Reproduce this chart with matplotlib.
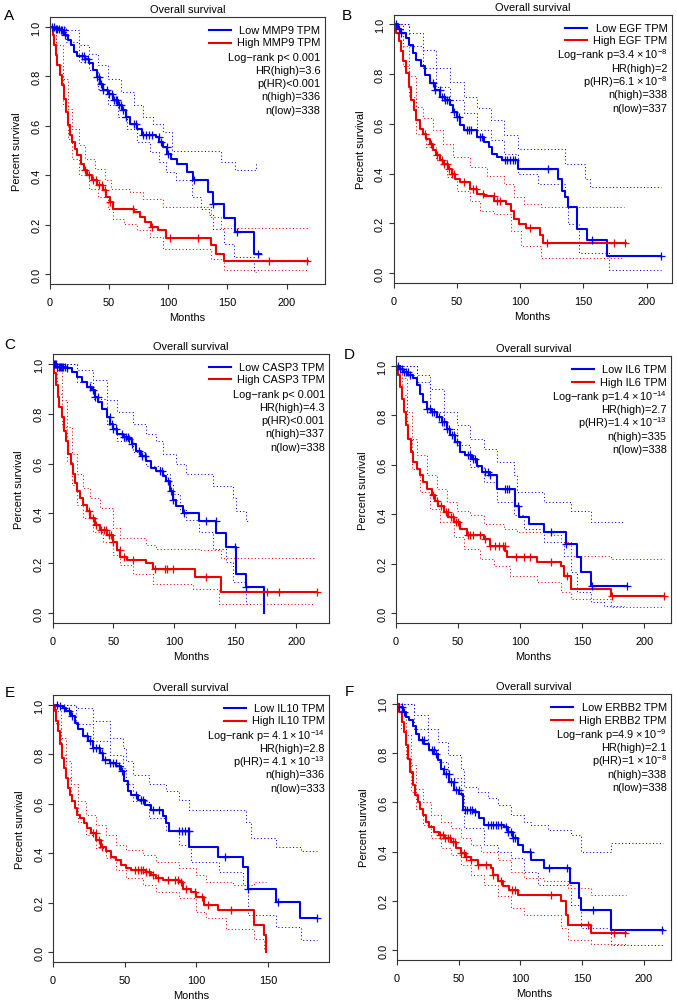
# Kaplan-Meier overall survival panels (A-F), low vs high TPM groups

import numpy as np
import matplotlib
matplotlib.use('Agg')
import matplotlib.pyplot as plt

plt.rcParams['font.family'] = ['Liberation Sans', 'DejaVu Sans']
plt.rcParams['mathtext.fontset'] = 'custom'
plt.rcParams['mathtext.rm'] = 'Liberation Sans'
plt.rcParams['mathtext.default'] = 'regular'

FS = 7.9
BLUE = '#0000ee'
RED = '#ee0000'

# ---------------- A: MMP9 ----------------
mmp9_low_t = [0, 4.1, 8.2, 12.2, 15.0, 17.7, 20.4, 23.1, 29.9, 32.7, 36.7, 39.5, 42.2, 44.9, 49.0, 53.1, 57.1, 61.2,
              63.9, 68.0, 73.5, 77.6, 89.8, 92.5, 95.2, 99.3, 102.0, 107.5, 115.6, 121.1, 133.3, 137.4, 146.9, 156.5,
              172.8, 178.2]
mmp9_low_s = [1.0, 0.993, 0.987, 0.966, 0.946, 0.926, 0.899, 0.883, 0.872, 0.852, 0.825, 0.798, 0.771, 0.744, 0.730,
              0.703, 0.683, 0.663, 0.636, 0.609, 0.588, 0.561, 0.555, 0.534, 0.514, 0.487, 0.467, 0.447, 0.413, 0.379,
              0.332, 0.285, 0.227, 0.170, 0.082, 0.082]
mmp9_high_t = [0, 2.2, 3.5, 4.9, 6.3, 8.2, 10.3, 12.2, 13.6, 15.5, 17.1, 19.0, 21.0, 23.1, 25.9, 28.6, 31.3, 35.4,
               39.5, 44.9, 47.6, 50.3, 53.1, 70.7, 76.2, 80.3, 85.7, 91.2, 98.0, 136.0, 140.1, 146.9, 217.7]
mmp9_high_s = [1.0, 0.966, 0.926, 0.885, 0.845, 0.804, 0.764, 0.710, 0.656, 0.602, 0.561, 0.534, 0.507, 0.480, 0.447,
               0.420, 0.399, 0.379, 0.359, 0.339, 0.312, 0.291, 0.265, 0.251, 0.231, 0.211, 0.190, 0.177, 0.146, 0.116,
               0.082, 0.055, 0.055]
mmp9_low_cens = [2, 3.5, 5, 6, 7.5, 9, 10, 11.5, 13, 27, 28.5, 30, 32, 40, 41.5, 43, 45, 48, 50, 52.5, 54, 55.5, 57,
                 58.5, 60, 62, 64, 71, 73, 79, 81.5, 84, 86.5, 92, 94, 98.5, 100, 122, 137.5, 158, 176]
mmp9_high_cens = [30, 33, 36.5, 39, 41.5, 44, 46.5, 51, 70, 86, 101, 125, 185, 217]
mmp9_low_up_t = [0, 13.6, 24.5, 32.7, 40.8, 49.0, 59.9, 70.7, 78.9, 87.1, 95.2, 103.4, 144.2, 156.5, 174.1, 175.5]
mmp9_low_up_s = [1.0, 0.987, 0.926, 0.892, 0.845, 0.791, 0.737, 0.683, 0.636, 0.609, 0.575, 0.5, 0.453, 0.42, 0.447,
                 0.447]
mmp9_low_lo_t = [0, 13.6, 24.5, 32.7, 40.8, 49.0, 57.1, 65.3, 73.5, 84.4, 92.5, 98.0, 106.1, 119.7, 127.9, 134.7,
                 137.4, 146.9, 155.1, 172.8, 174.1]
mmp9_low_lo_s = [1.0, 0.94, 0.858, 0.825, 0.75, 0.683, 0.636, 0.588, 0.534, 0.494, 0.453, 0.413, 0.379, 0.312, 0.265,
                 0.238, 0.184, 0.123, 0.069, 0.008, 0.008]
mmp9_high_up_t = [0, 5.4, 10.9, 15.0, 19.0, 24.5, 29.9, 38.1, 46.3, 51.7, 68.0, 78.9, 95.2, 136.1, 144.2, 217.7]
mmp9_high_up_s = [1.0, 0.926, 0.791, 0.669, 0.588, 0.521, 0.467, 0.426, 0.379, 0.345, 0.332, 0.305, 0.271, 0.231,
                  0.186, 0.186]
mmp9_high_lo_t = [0, 5.4, 10.9, 15.0, 19.0, 24.5, 32.7, 40.8, 49.0, 53.1, 62.6, 73.5, 84.4, 95.2, 136.1, 146.9, 217.7]
mmp9_high_lo_s = [1.0, 0.845, 0.683, 0.548, 0.467, 0.399, 0.345, 0.312, 0.265, 0.224, 0.204, 0.177, 0.150, 0.103,
                  0.062, 0.015, 0.015]
mmp9_text = ['Low MMP9 TPM', 'High MMP9 TPM', 'Log\u2212rank p< 0.001', 'HR(high)=3.6', 'p(HR)<0.001',
             'n(high)=336', 'n(low)=338']

# ---------------- B: EGF ----------------
egf_low_t = [0, 3.2, 5.9, 9.9, 12.6, 15.2, 17.9, 21.9, 24.6, 28.6, 32.6, 36.6, 40.6, 44.6, 47.3, 49.9, 52.6, 55.3,
             66.0, 71.3, 75.3, 78.0, 82.0, 86.0, 98.0, 130.0, 132.7, 135.4, 138.0, 144.7, 152.7, 168.8, 211.5]
egf_low_s = [1.0, 0.98, 0.966, 0.946, 0.919, 0.885, 0.858, 0.831, 0.797, 0.764, 0.736, 0.709, 0.696, 0.676, 0.649,
             0.628, 0.595, 0.574, 0.547, 0.527, 0.507, 0.480, 0.466, 0.453, 0.419, 0.378, 0.331, 0.304, 0.264, 0.176,
             0.131, 0.068, 0.068]
egf_high_t = [0, 1.9, 4.0, 5.9, 7.7, 9.9, 12.0, 14.2, 16.0, 17.9, 20.6, 23.2, 25.9, 28.6, 31.2, 33.9, 36.6, 39.3,
              43.3, 45.9, 48.6, 52.6, 60.6, 66.0, 71.3, 79.3, 88.7, 92.7, 95.3, 99.3, 104.7, 115.4, 118.0, 183.4]
egf_high_s = [1.0, 0.966, 0.932, 0.892, 0.851, 0.804, 0.75, 0.696, 0.655, 0.615, 0.581, 0.561, 0.541, 0.520, 0.493,
              0.473, 0.453, 0.439, 0.419, 0.399, 0.378, 0.365, 0.338, 0.318, 0.311, 0.291, 0.277, 0.25, 0.216, 0.196,
              0.182, 0.153, 0.122, 0.122]
egf_low_cens = [2, 4, 6, 31, 33, 36.5, 38, 39.5, 41, 42.5, 44, 48, 50, 52, 58, 59.5, 61, 68, 70, 88, 90, 92, 94, 96,
                122, 157, 211.5]
egf_high_cens = [24.5, 30, 34, 38.5, 40, 42, 44, 46, 47.5, 56, 63, 65.5, 71, 79, 82, 84, 108, 121, 174, 182.5]
egf_low_up_t = [0, 12.6, 23.2, 33.9, 44.6, 55.3, 66.0, 76.6, 87.3, 98.0, 135.4, 151.4, 155.4, 211.5]
egf_low_up_s = [1.0, 0.966, 0.899, 0.824, 0.770, 0.709, 0.662, 0.615, 0.554, 0.5, 0.439, 0.378, 0.345, 0.345]
egf_low_lo_t = [0, 12.6, 23.2, 33.9, 44.6, 55.3, 66.0, 76.6, 87.3, 98.0, 114.0, 135.4, 138.0, 146.1, 170.1, 211.5]
egf_low_lo_s = [1.0, 0.912, 0.824, 0.75, 0.696, 0.642, 0.574, 0.534, 0.480, 0.399, 0.358, 0.304, 0.196, 0.081, 0.014,
                0.014]
egf_high_up_t = [0, 7.2, 12.6, 17.9, 23.2, 31.2, 39.3, 47.3, 60.6, 74.0, 87.3, 95.3, 103.3, 116.7, 182.1]
egf_high_up_s = [1.0, 0.912, 0.791, 0.669, 0.622, 0.574, 0.520, 0.466, 0.426, 0.392, 0.358, 0.304, 0.277, 0.264, 0.264]
egf_high_lo_t = [0, 7.2, 12.6, 17.9, 25.9, 33.9, 41.9, 49.9, 60.6, 68.6, 79.3, 92.7, 100.7, 116.7, 182.1]
egf_high_lo_s = [1.0, 0.831, 0.709, 0.561, 0.507, 0.453, 0.385, 0.331, 0.291, 0.25, 0.236, 0.169, 0.108, 0.061, 0.061]
egf_text = ['Low EGF TPM', 'High EGF TPM', 'Log\u2212rank p=$3.4 \\times 10^{-8}$', 'HR(high)=2',
            'p(HR)=$6.1 \\times 10^{-8}$', 'n(high)=338', 'n(low)=337']

# ---------------- C: CASP3 ----------------
casp3_low_t = [0, 3.5, 11.7, 15.8, 19.9, 23.9, 28.0, 32.1, 34.8, 37.6, 40.3, 44.4, 47.1, 49.8, 52.5, 58.0, 62.0, 64.8,
               68.8, 72.9, 77.0, 81.1, 85.2, 90.6, 93.3, 96.1, 98.8, 101.5, 106.9, 120.5, 134.1, 142.3, 150.5, 158.6,
               173.6]
casp3_low_s = [1.0, 0.989, 0.982, 0.969, 0.949, 0.928, 0.908, 0.895, 0.868, 0.847, 0.82, 0.786, 0.759, 0.739, 0.719,
               0.705, 0.699, 0.678, 0.651, 0.631, 0.611, 0.584, 0.570, 0.55, 0.530, 0.489, 0.455, 0.428, 0.401, 0.368,
               0.32, 0.266, 0.158, 0.104, 0.0]
casp3_high_t = [0, 1.4, 2.7, 4.1, 5.7, 7.6, 9.5, 11.2, 13.1, 15.0, 16.6, 18.5, 20.4, 22.6, 25.3, 28.0, 30.7, 34.8,
                38.9, 44.4, 49.8, 52.5, 55.2, 60.7, 77.0, 82.4, 116.5, 138.2, 217.1]
casp3_high_s = [1.0, 0.962, 0.915, 0.868, 0.827, 0.786, 0.732, 0.692, 0.638, 0.597, 0.557, 0.523, 0.489, 0.462, 0.435,
                0.408, 0.381, 0.354, 0.334, 0.314, 0.286, 0.253, 0.226, 0.212, 0.199, 0.178, 0.145, 0.084, 0.084]
casp3_low_cens = [1, 2, 3, 4, 5, 6, 7, 8, 9, 10, 12, 31, 33, 35, 37, 47, 48.5, 50, 52, 57, 58.5, 60, 61.5, 63, 65, 71,
                  73, 76, 88, 90, 95, 97, 99, 108, 126, 134, 150, 159]
casp3_high_cens = [30, 33, 36, 40, 42, 44, 46, 48, 50, 55, 59, 66, 84, 92, 94, 99, 126, 176, 186, 217]
casp3_low_up_t = [0, 19.9, 33.5, 44.4, 52.5, 66.1, 77.0, 85.2, 90.6, 101.5, 109.7, 131.4, 147.8, 150.5, 158.6, 160.0]
casp3_low_up_s = [1.0, 0.976, 0.935, 0.854, 0.807, 0.759, 0.719, 0.692, 0.638, 0.597, 0.557, 0.509, 0.462, 0.408,
                  0.368, 0.368]
casp3_low_lo_t = [0, 19.9, 33.5, 44.4, 52.5, 66.1, 77.0, 87.9, 96.1, 98.8, 104.2, 109.7, 120.5, 131.4, 142.3, 147.8,
                  158.6, 160.0]
casp3_low_lo_s = [1.0, 0.928, 0.861, 0.753, 0.692, 0.645, 0.591, 0.557, 0.516, 0.476, 0.415, 0.374, 0.327, 0.259,
                  0.205, 0.124, 0.036, 0.036]
casp3_high_up_t = [0, 3.5, 7.6, 11.7, 15.8, 19.9, 25.3, 30.7, 38.9, 49.8, 55.2, 77.0, 85.2, 120.5, 138.2, 214.4]
casp3_high_up_s = [1.0, 0.976, 0.854, 0.746, 0.638, 0.557, 0.503, 0.462, 0.422, 0.341, 0.3, 0.273, 0.259, 0.253,
                   0.219, 0.219]
casp3_high_lo_t = [0, 3.5, 7.6, 11.7, 15.8, 19.9, 25.3, 33.5, 41.6, 49.8, 55.2, 66.1, 82.4, 115.1, 136.9, 214.4]
casp3_high_lo_s = [1.0, 0.881, 0.746, 0.611, 0.516, 0.435, 0.381, 0.327, 0.286, 0.232, 0.192, 0.158, 0.118, 0.097,
                   0.036, 0.036]
casp3_text = ['Low CASP3 TPM', 'High CASP3 TPM', 'Log\u2212rank p< 0.001', 'HR(high)=4.3', 'p(HR)<0.001',
              'n(high)=337', 'n(low)=338']

# ---------------- D: IL6 ----------------
il6_low_t = [0, 3.2, 5.9, 10.0, 14.0, 16.7, 19.4, 22.1, 24.8, 28.8, 32.9, 36.9, 40.9, 43.7, 47.7, 51.8, 55.8, 61.2,
             65.2, 69.3, 76.0, 81.4, 96.2, 98.9, 107.0, 119.1, 136.7, 146.1, 148.8, 156.9, 186.5]
il6_low_s = [1.0, 0.989, 0.976, 0.962, 0.949, 0.922, 0.888, 0.854, 0.827, 0.814, 0.793, 0.773, 0.746, 0.719, 0.692,
             0.651, 0.638, 0.624, 0.597, 0.570, 0.557, 0.503, 0.435, 0.388, 0.361, 0.327, 0.28, 0.226, 0.165, 0.111,
             0.111]
il6_high_t = [0, 1.6, 3.2, 4.9, 6.5, 8.1, 10.0, 11.9, 14.0, 16.7, 19.4, 22.1, 24.8, 28.8, 31.5, 34.2, 38.3, 42.3,
              46.4, 51.8, 57.1, 70.6, 76.0, 88.1, 89.5, 113.7, 132.6, 135.3, 140.7, 173.0, 216.2]
il6_high_s = [1.0, 0.962, 0.915, 0.868, 0.814, 0.759, 0.705, 0.651, 0.611, 0.584, 0.557, 0.530, 0.503, 0.476, 0.455,
              0.435, 0.408, 0.388, 0.368, 0.341, 0.314, 0.3, 0.273, 0.253, 0.226, 0.205, 0.192, 0.151, 0.097, 0.07,
              0.07]
il6_low_cens = [2, 3.5, 5, 6.5, 8, 9.5, 11, 25, 27, 29, 31, 35, 37, 39, 41, 43, 45, 47, 49, 58, 60, 62, 64, 72, 74, 76,
                88, 89.5, 91, 98, 125, 137, 158, 186.5]
il6_high_cens = [30, 33, 36, 40, 42, 44, 46, 48, 50, 58, 60, 62, 68, 72, 76, 80, 83, 86, 88, 97, 103, 108, 125, 138,
                 174, 216]
il6_low_up_t = [0, 16.7, 27.5, 38.3, 49.1, 59.8, 70.6, 81.4, 94.9, 97.6, 119.1, 140.7, 156.9, 183.8]
il6_low_up_s = [1.0, 0.962, 0.908, 0.814, 0.759, 0.705, 0.665, 0.611, 0.557, 0.489, 0.449, 0.415, 0.368, 0.368]
il6_low_lo_t = [0, 16.7, 27.5, 38.3, 49.1, 59.8, 70.6, 81.4, 94.9, 103.0, 119.1, 135.3, 140.7, 146.1, 156.9, 167.7,
                183.8]
il6_low_lo_s = [1.0, 0.935, 0.814, 0.746, 0.678, 0.591, 0.530, 0.449, 0.395, 0.341, 0.286, 0.232, 0.165, 0.084, 0.043,
                0.030, 0.030]
il6_high_up_t = [0, 4.6, 8.6, 12.7, 16.7, 24.8, 32.9, 41.0, 49.1, 59.8, 70.6, 86.8, 97.6, 124.5, 132.6, 140.7, 173.0,
                 216.2]
il6_high_up_s = [1.0, 0.949, 0.814, 0.705, 0.638, 0.557, 0.503, 0.449, 0.415, 0.395, 0.361, 0.341, 0.327, 0.314, 0.286,
                 0.232, 0.219, 0.219]
il6_high_lo_t = [0, 4.6, 8.6, 12.7, 19.4, 27.5, 35.6, 46.4, 54.4, 67.9, 78.7, 92.2, 113.7, 132.6, 140.7, 173.0, 216.2]
il6_high_lo_s = [1.0, 0.881, 0.705, 0.584, 0.489, 0.422, 0.368, 0.307, 0.259, 0.219, 0.192, 0.151, 0.124, 0.084,
                 0.057, 0.023, 0.023]
il6_text = ['Low IL6 TPM', 'High IL6 TPM', 'Log\u2212rank p=$1.4 \\times 10^{-14}$', 'HR(high)=2.7',
            'p(HR)=$1.4 \\times 10^{-13}$', 'n(high)=335', 'n(low)=338']

# ---------------- E: IL10 ----------------
il10_low_t = [0, 3.5, 7.0, 9.3, 12.8, 15.1, 17.4, 20.9, 24.3, 27.8, 32.5, 34.8, 39.4, 44.1, 47.5, 49.8, 52.2, 54.5,
              59.1, 63.8, 68.4, 76.5, 78.8, 81.1, 95.1, 114.8, 132.2, 135.6, 155.3, 172.3, 184.3]
il10_low_s = [1.0, 0.996, 0.989, 0.976, 0.955, 0.928, 0.901, 0.874, 0.854, 0.827, 0.806, 0.779, 0.766, 0.752, 0.732,
              0.691, 0.650, 0.637, 0.617, 0.596, 0.576, 0.549, 0.522, 0.488, 0.427, 0.386, 0.346, 0.257, 0.203, 0.136,
              0.136]
il10_high_t = [0, 1.2, 2.3, 3.7, 5.1, 6.5, 7.9, 9.3, 10.7, 12.1, 13.4, 15.1, 16.9, 19.0, 21.3, 23.6, 26.7, 30.1, 33.6,
               37.1, 40.6, 44.1, 47.5, 51.0, 54.5, 64.9, 68.4, 71.9, 76.5, 88.1, 90.4, 96.2, 99.7, 105.5, 114.8, 140.3,
               147.2, 148.4]
il10_high_s = [1.0, 0.976, 0.935, 0.894, 0.84, 0.786, 0.745, 0.705, 0.664, 0.637, 0.610, 0.583, 0.556, 0.542, 0.522,
               0.501, 0.481, 0.454, 0.427, 0.407, 0.386, 0.373, 0.352, 0.339, 0.332, 0.325, 0.312, 0.298, 0.291, 0.285,
               0.257, 0.244, 0.224, 0.190, 0.169, 0.108, 0.068, 0.0]
il10_low_cens = [3, 5, 8, 11, 13, 24, 26, 28, 30, 32, 34, 36, 40, 42, 44, 46, 48, 58, 61, 63, 70, 74, 88, 90, 92, 94,
                 95, 120, 136, 157, 184]
il10_high_cens = [28, 30, 32, 34, 57, 59, 61, 63, 65, 67, 70, 73, 80, 85, 87, 89, 93, 99, 104, 108, 124]
il10_low_up_t = [0, 16.2, 27.8, 39.4, 48.7, 51.0, 55.6, 67.2, 78.8, 88.1, 95.1, 134.5, 138.0, 155.3, 172.7, 184.3]
il10_low_up_s = [1.0, 0.989, 0.935, 0.867, 0.827, 0.772, 0.718, 0.678, 0.650, 0.617, 0.576, 0.528, 0.461, 0.427,
                 0.407, 0.407]
il10_low_lo_t = [0, 16.2, 27.8, 39.4, 48.7, 51.0, 55.6, 67.2, 78.8, 88.1, 96.2, 115.9, 132.2, 135.6, 155.3, 172.7,
                 184.3]
il10_low_lo_s = [1.0, 0.921, 0.854, 0.799, 0.745, 0.678, 0.610, 0.542, 0.488, 0.434, 0.366, 0.325, 0.271, 0.149,
                 0.102, 0.047, 0.047]
il10_high_up_t = [0, 2.3, 5.8, 9.3, 12.8, 17.4, 23.2, 30.1, 37.1, 44.1, 51.0, 62.6, 71.9, 88.1, 99.7, 106.7, 125.2,
                  140.3, 148.4]
il10_high_up_s = [1.0, 0.976, 0.867, 0.772, 0.678, 0.610, 0.556, 0.515, 0.474, 0.434, 0.413, 0.393, 0.366, 0.339,
                  0.312, 0.285, 0.271, 0.285, 0.285]
il10_high_lo_t = [0, 2.3, 5.8, 9.3, 12.8, 17.4, 23.2, 30.1, 37.1, 44.1, 51.0, 62.6, 71.9, 88.1, 99.7, 106.7, 120.6,
                  140.3, 147.2, 148.4]
il10_high_lo_s = [1.0, 0.921, 0.799, 0.705, 0.610, 0.528, 0.474, 0.420, 0.379, 0.332, 0.298, 0.271, 0.244, 0.217,
                  0.163, 0.136, 0.095, 0.054, 0.014, 0.014]
il10_text = ['Low IL10 TPM', 'High IL10 TPM', 'Log\u2212rank p= $4.1 \\times 10^{-14}$', 'HR(high)=2.8',
             'p(HR)= $4.1 \\times 10^{-13}$', 'n(high)=336', 'n(low)=333']

# ---------------- F: ERBB2 ----------------
erbb2_low_t = [0, 1.9, 4.6, 7.3, 10.0, 12.7, 15.4, 18.1, 22.2, 26.2, 30.3, 33.0, 35.7, 38.4, 42.4, 46.5, 50.5, 53.2,
               62.7, 66.8, 70.8, 87.0, 89.7, 93.8, 97.8, 101.9, 108.6, 119.5, 140.5, 147.8, 149.2, 173.0, 215.4]
erbb2_low_s = [1.0, 0.987, 0.966, 0.946, 0.933, 0.912, 0.879, 0.852, 0.838, 0.811, 0.798, 0.771, 0.737, 0.717, 0.683,
               0.650, 0.636, 0.569, 0.562, 0.535, 0.508, 0.501, 0.481, 0.454, 0.427, 0.4, 0.367, 0.333, 0.272, 0.212,
               0.164, 0.080, 0.080]
erbb2_high_t = [0, 1.9, 3.8, 5.4, 7.3, 9.2, 10.8, 12.7, 14.6, 16.8, 18.9, 21.1, 23.5, 26.2, 30.3, 34.3, 38.4, 43.8,
                47.8, 51.9, 55.9, 60.0, 65.4, 76.2, 77.6, 81.6, 85.7, 91.1, 97.8, 133.0, 137.0, 138.4, 157.3, 185.7]
erbb2_high_s = [1.0, 0.966, 0.926, 0.885, 0.832, 0.778, 0.724, 0.670, 0.629, 0.602, 0.575, 0.549, 0.522, 0.501, 0.481,
                0.468, 0.454, 0.441, 0.414, 0.394, 0.38, 0.367, 0.346, 0.333, 0.306, 0.279, 0.259, 0.245, 0.225, 0.198,
                0.144, 0.104, 0.07, 0.07]
erbb2_low_cens = [2, 4, 6, 20, 22, 28, 30, 32, 38, 40, 42, 44, 46, 48, 50, 55, 57, 59, 61, 63, 74, 76, 78, 80, 82, 84,
                  88, 90, 92, 94, 96, 108, 123, 138, 159, 215]
erbb2_high_cens = [35, 37, 39, 41, 43, 45, 47, 52, 54, 56, 60, 66, 72, 78, 84, 93, 96, 125, 155, 176, 185]
erbb2_low_up_t = [0, 14.1, 24.9, 33.0, 41.1, 51.9, 54.6, 65.4, 73.5, 81.6, 92.4, 103.2, 108.6, 122.2, 141.1, 149.2,
                  173.5, 215.4]
erbb2_low_up_s = [1.0, 0.953, 0.899, 0.845, 0.791, 0.737, 0.663, 0.643, 0.616, 0.589, 0.548, 0.522, 0.508, 0.488,
                  0.468, 0.4, 0.434, 0.434]
erbb2_low_lo_t = [0, 14.1, 24.9, 33.0, 41.1, 51.9, 54.6, 70.8, 81.6, 92.4, 103.2, 114.1, 141.1, 149.2, 173.0, 215.4]
erbb2_low_lo_s = [1.0, 0.899, 0.818, 0.764, 0.697, 0.629, 0.495, 0.427, 0.4, 0.373, 0.319, 0.266, 0.185, 0.09, 0.02,
                  0.02]
erbb2_high_up_t = [0, 3.2, 7.3, 11.4, 15.4, 20.8, 27.6, 35.7, 43.8, 51.9, 60.0, 68.1, 81.6, 92.4, 103.2, 119.5, 138.4,
                   157.3, 185.7]
erbb2_high_up_s = [1.0, 0.966, 0.872, 0.751, 0.656, 0.602, 0.549, 0.522, 0.495, 0.454, 0.427, 0.4, 0.367, 0.319,
                   0.292, 0.279, 0.252, 0.225, 0.225]
erbb2_high_lo_t = [0, 3.2, 7.3, 11.4, 15.4, 20.8, 27.6, 35.7, 43.8, 51.9, 60.0, 70.8, 81.6, 92.4, 103.2, 133.0, 138.4,
                   157.3, 185.7]
erbb2_high_lo_s = [1.0, 0.899, 0.778, 0.643, 0.575, 0.508, 0.454, 0.414, 0.387, 0.346, 0.306, 0.266, 0.218, 0.171,
                   0.144, 0.09, 0.043, 0.023, 0.023]
erbb2_text = ['Low ERBB2 TPM', 'High ERBB2 TPM', 'Log\u2212rank p=$4.9 \\times 10^{-9}$', 'HR(high)=2.1',
              'p(HR)=$1 \\times 10^{-8}$', 'n(high)=338', 'n(low)=338']

x_ticks_ab = [0, 50, 100, 150, 200]
x_ticks_e = [0, 50, 100, 150]
y_ticks = [0.0, 0.2, 0.4, 0.6, 0.8, 1.0]

W, H = 677, 1003
fig = plt.figure(figsize=(W / 100, H / 100), dpi=100)

# letter, frame box in pixels (left, top, right, bottom), x max, letter position (px)
panels = [
    ('A', (50, 18, 324.5, 285), 232, (9, 16), x_ticks_ab,
     (mmp9_low_t, mmp9_low_s, mmp9_high_t, mmp9_high_s, mmp9_low_cens, mmp9_high_cens,
      mmp9_low_up_t, mmp9_low_up_s, mmp9_low_lo_t, mmp9_low_lo_s,
      mmp9_high_up_t, mmp9_high_up_s, mmp9_high_lo_t, mmp9_high_lo_s), mmp9_text),
    ('B', (393.5, 15.5, 671.5, 284), 219.5, (347, 16), x_ticks_ab,
     (egf_low_t, egf_low_s, egf_high_t, egf_high_s, egf_low_cens, egf_high_cens,
      egf_low_up_t, egf_low_up_s, egf_low_lo_t, egf_low_lo_s,
      egf_high_up_t, egf_high_up_s, egf_high_lo_t, egf_high_lo_s), egf_text),
    ('C', (52.5, 355, 329, 624), 226.7, (10, 345), x_ticks_ab,
     (casp3_low_t, casp3_low_s, casp3_high_t, casp3_high_s, casp3_low_cens, casp3_high_cens,
      casp3_low_up_t, casp3_low_up_s, casp3_low_lo_t, casp3_low_lo_s,
      casp3_high_up_t, casp3_high_up_s, casp3_high_lo_t, casp3_high_lo_s), casp3_text),
    ('D', (396, 357, 671, 624), 221.6, (349, 355), x_ticks_ab,
     (il6_low_t, il6_low_s, il6_high_t, il6_high_s, il6_low_cens, il6_high_cens,
      il6_low_up_t, il6_low_up_s, il6_low_lo_t, il6_low_lo_s,
      il6_high_up_t, il6_high_up_s, il6_high_lo_t, il6_high_lo_s), il6_text),
    ('E', (53, 696, 329, 963), 192.4, (10, 693), x_ticks_e,
     (il10_low_t, il10_low_s, il10_high_t, il10_high_s, il10_low_cens, il10_high_cens,
      il10_low_up_t, il10_low_up_s, il10_low_lo_t, il10_low_lo_s,
      il10_high_up_t, il10_high_up_s, il10_high_lo_t, il10_high_lo_s), il10_text),
    ('F', (397, 695, 671, 961), 222, (349, 692), x_ticks_ab,
     (erbb2_low_t, erbb2_low_s, erbb2_high_t, erbb2_high_s, erbb2_low_cens, erbb2_high_cens,
      erbb2_low_up_t, erbb2_low_up_s, erbb2_low_lo_t, erbb2_low_lo_s,
      erbb2_high_up_t, erbb2_high_up_s, erbb2_high_lo_t, erbb2_high_lo_s), erbb2_text),
]

# legend row offsets below the top of the frame, px
row_px = [13, 25.5, 40, 53, 66.3, 79.5, 93]


def step_at(t, s, c):
    i = np.searchsorted(t, c, side='right') - 1
    return np.asarray(s)[np.clip(i, 0, len(s) - 1)]


for letter, (l, t, r, b), xmax, (lx, ly), xt, d, txt in panels:
    ax = fig.add_axes([l / W, 1 - b / H, (r - l) / W, (b - t) / H])
    w_px, h_px = r - l, b - t
    (lt, ls, ht, hs, lc, hc, lut, lus, llt, lls, hut, hus, hlt, hls) = d

    dot = dict(where='post', lw=0.75, ls=(0, (1, 2.3)))
    ax.step(lut, lus, color=BLUE, **dot)
    ax.step(llt, lls, color=BLUE, **dot)
    ax.step(hut, hus, color=RED, **dot)
    ax.step(hlt, hls, color=RED, **dot)
    ax.step(lt, ls, where='post', color=BLUE, lw=1.5)
    ax.step(ht, hs, where='post', color=RED, lw=1.5)
    ax.plot(lc, step_at(lt, ls, lc), ls='none', marker='+', ms=6, mew=0.9, color=BLUE)
    ax.plot(hc, step_at(ht, hs, hc), ls='none', marker='+', ms=6, mew=0.9, color=RED)

    ax.set_xlim(0, xmax)
    ax.set_ylim(-0.04, 1.04)
    ax.set_xticks(xt)
    ax.set_yticks(y_ticks)
    ax.set_yticklabels([f'{v:.1f}' for v in y_ticks], rotation=90, va='center')
    ax.tick_params(labelsize=FS, length=3.6, width=0.8, color='#333333')
    ax.tick_params(axis='y', pad=2.5)
    ax.tick_params(axis='x', pad=6)
    for sp in ax.spines.values():
        sp.set_linewidth(0.8)
        sp.set_color('#333333')

    ax.set_title('Overall survival', fontsize=FS, pad=3.5)
    ax.set_xlabel('Months', fontsize=FS)
    ax.set_ylabel('Percent survival', fontsize=FS)
    ax.xaxis.set_label_coords(0.5, -28 / h_px)
    ax.yaxis.set_label_coords(-28 / w_px, 0.5)

    # legend-like block in the top right corner
    xr = 0.985
    for k, s in enumerate(txt):
        ax.text(xr, 1 - row_px[k] / h_px, s, transform=ax.transAxes, ha='right', va='center', fontsize=FS)
    fig.canvas.draw()
    bb = ax.texts[1].get_window_extent()
    x_end = (bb.x0 - l - 6) / w_px
    x_start = x_end - 22 / w_px
    for k, c in enumerate([BLUE, RED]):
        yy = 1 - row_px[k] / h_px
        ax.plot([x_start, x_end], [yy, yy], transform=ax.transAxes, color=c, lw=1.5)

    fig.text(lx / W, 1 - ly / H, letter, fontsize=11, ha='center', va='center')

fig.savefig('out.png', dpi=100)
